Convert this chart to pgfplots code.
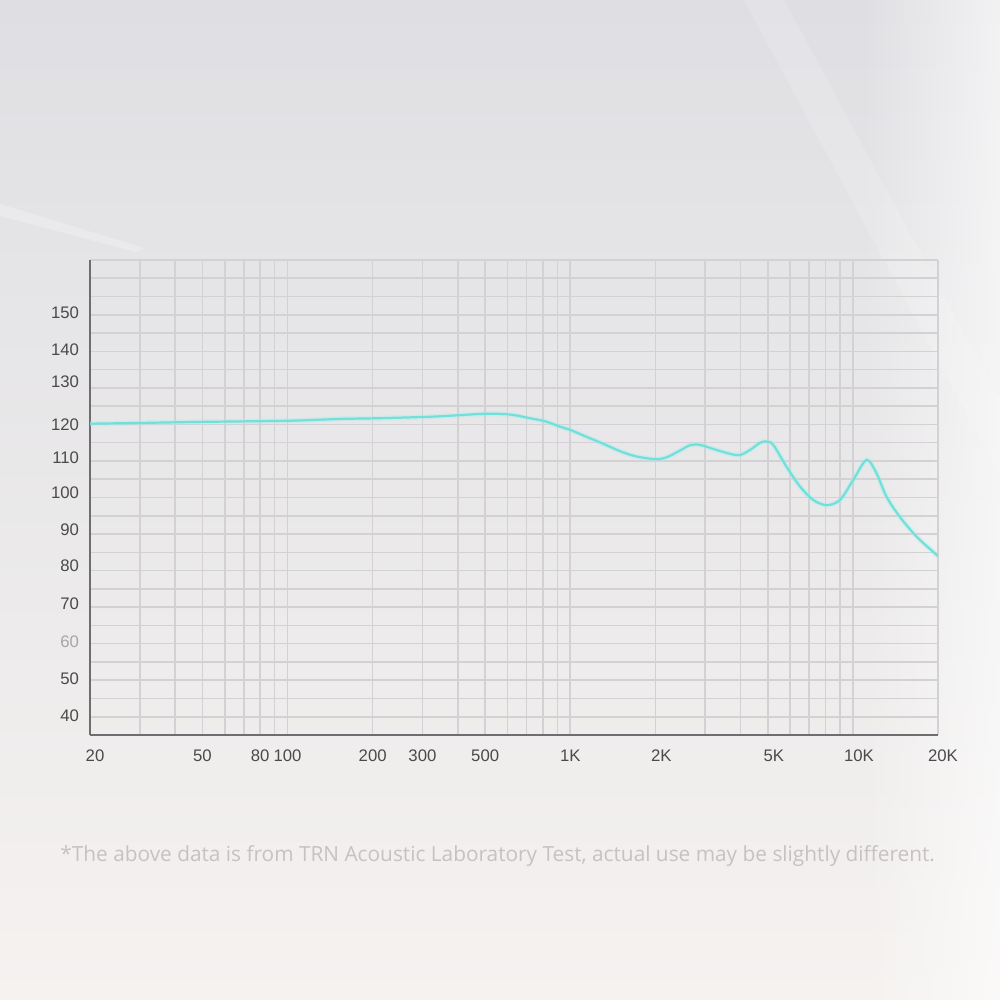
\documentclass[border=0pt]{standalone}
\usepackage{pgfplots}
\pgfplotsset{compat=1.18}
\usepackage{fontspec}
\setmainfont{Liberation Sans}
\newfontfamily\notefont{Open Sans}
\usetikzlibrary{fadings}
\definecolor{bgtop}{HTML}{DFDFE3}
\definecolor{bgmid}{HTML}{EBEAEC}
\definecolor{bgbot}{HTML}{F5F2F0}
\definecolor{gridc}{HTML}{D3D1D4}
\definecolor{axisc}{HTML}{6E6E70}
\definecolor{tickc}{HTML}{4A4A4A}
\definecolor{curve}{HTML}{6FE0DA}
\definecolor{notec}{HTML}{C6C2C2}
\tikzfading[name=fade right, left color=transparent!100, right color=transparent!0]

\begin{document}
\begin{tikzpicture}
% background
\shade[top color=bgtop, middle color=bgmid, bottom color=bgbot] (0,0) rectangle (500bp,500bp);
\fill[white, opacity=0.6, path fading=fade right] (430bp,0) rectangle (500bp,500bp);
\fill[white, opacity=0.15] (372bp,500bp) -- (392bp,500bp) -- (500bp,300bp) -- (500bp,262bp) -- cycle;
\fill[white, opacity=0.25] (0,398bp) -- (0,392bp) -- (68bp,374bp) -- (72bp,376bp) -- cycle;

\begin{axis}[
    at={(45bp,132.5bp)}, anchor=south west,
    scale only axis,
    width=424bp, height=237.5bp,
    xmode=log,
    xmin=20, xmax=20000,
    ymin=35, ymax=165,
    axis x line*=bottom, axis y line*=left,
    axis line style={axisc, line width=1bp},
    xtick={20,50,80,100,200,300,500,1000,2000,5000,10000,20000},
    xticklabels={\hspace*{5bp}20,50,80,100,200,300,500,1K,\hspace*{6bp}2K,\hspace*{6bp}5K,\hspace*{6bp}10K,\hspace*{5bp}20K},
    minor xtick={30,40,60,70,90,400,600,700,800,900,3000,4000,6000,7000,8000,9000},
    ytick={40.2,50.3,60.5,70.9,81.3,91.1,101.2,110.8,119.8,131.6,140.4,150.5},
    yticklabels={40,50,{\color{gray!70}60},70,80,90,100,110,120,130,140,150},
    minor ytick={35,40,...,165},
    xmajorgrids, xminorgrids, yminorgrids,
    major grid style={gridc, line width=0.8bp},
    minor grid style={gridc, line width=0.8bp},
    major tick length=0pt, minor tick length=0pt,
    tick label style={font=\fontsize{8.4}{10}\selectfont, text=tickc},
    /pgf/number format/assume math mode=true,
    xticklabel style={yshift=-4bp},
    yticklabel style={xshift=-2bp},
]
\addplot[curve!60, opacity=0.35, line width=2.6bp, smooth, tension=0.5] coordinates {
(20,120.2) (30,120.4) (50,120.7) (100,121.0) (153,121.5) (212,121.7) (319,122.1)
(400,122.5) (492,122.9) (560,122.9) (628,122.6) (720,121.7) (820,120.8) (918,119.4)
(1000,118.5) (1142,116.6) (1300,114.8) (1498,112.7) (1700,111.3) (1994,110.5)
(2192,111.0) (2450,112.9) (2652,114.3) (2878,114.4) (3296,113.0) (3700,111.9)
(3981,111.6) (4322,113.0) (4700,115.0) (4952,115.3) (5226,114.4) (5825,108.4)
(6500,103.0) (7244,99.3) (8072,97.9) (8996,99.3) (10028,104.8) (11176,110.3)
(12122,106.6) (13150,100.2) (14656,94.7) (16790,89.3) (19770,84.3) (20000,84.0)
};
\addplot[curve, line width=1.1bp, smooth, tension=0.5] coordinates {
(20,120.2) (30,120.4) (50,120.7) (100,121.0) (153,121.5) (212,121.7) (319,122.1)
(400,122.5) (492,122.9) (560,122.9) (628,122.6) (720,121.7) (820,120.8) (918,119.4)
(1000,118.5) (1142,116.6) (1300,114.8) (1498,112.7) (1700,111.3) (1994,110.5)
(2192,111.0) (2450,112.9) (2652,114.3) (2878,114.4) (3296,113.0) (3700,111.9)
(3981,111.6) (4322,113.0) (4700,115.0) (4952,115.3) (5226,114.4) (5825,108.4)
(6500,103.0) (7244,99.3) (8072,97.9) (8996,99.3) (10028,104.8) (11176,110.3)
(12122,106.6) (13150,100.2) (14656,94.7) (16790,89.3) (19770,84.3) (20000,84.0)
};
\end{axis}

\node[anchor=west, inner sep=0pt, text=notec, font=\notefont\fontsize{10.45}{12}\selectfont]
  at (30bp,72bp) {*The above data is from TRN Acoustic Laboratory Test, actual use may be slightly different.};
\end{tikzpicture}
\end{document}
